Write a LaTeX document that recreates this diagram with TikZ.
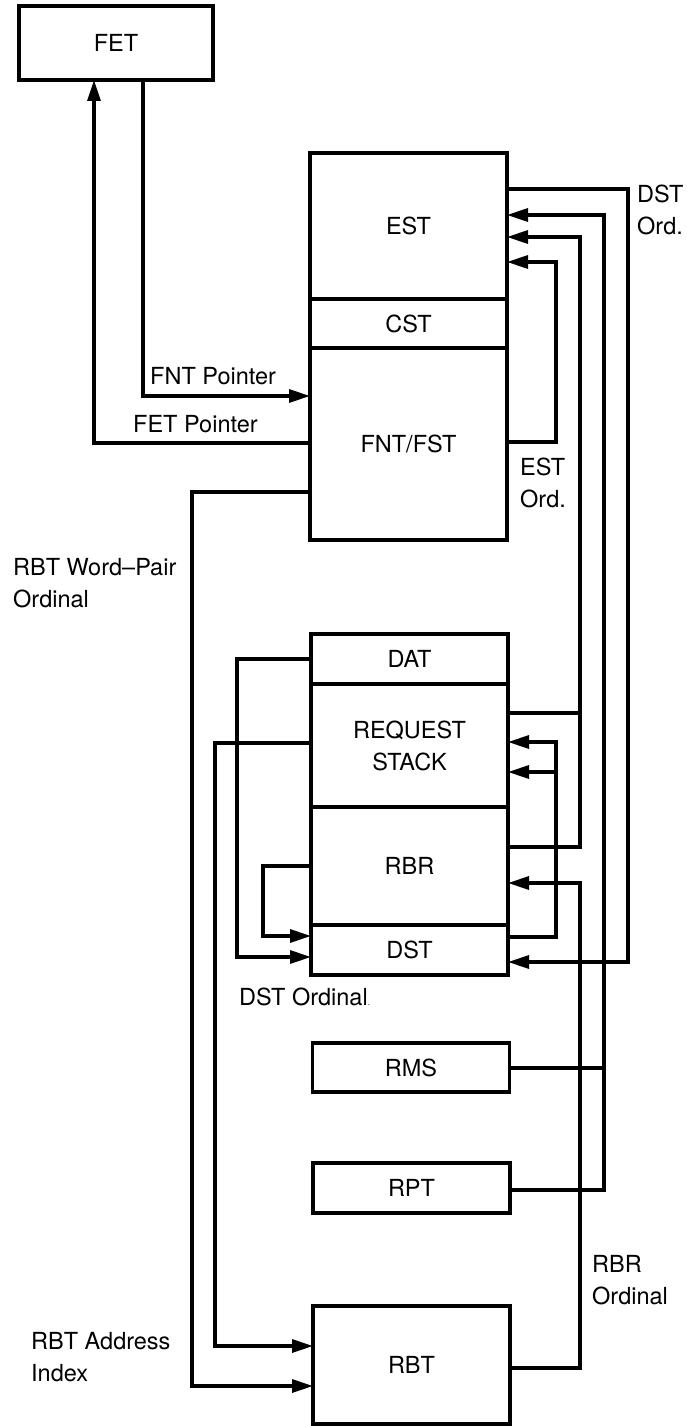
\documentclass[tikz,border=0pt]{standalone}
\usepackage{fontspec}
\setmainfont{TeX Gyre Heros}
\usetikzlibrary{arrows.meta}
\begin{document}
\begin{tikzpicture}[x=1pt,y=-1pt,
  font=\fontsize{23.5}{32}\selectfont,
  box/.style={draw, line width=3.2pt, inner sep=0pt, outer sep=0pt, anchor=center},
  conn/.style={line width=3.2pt, -{Triangle[length=21pt,width=13pt]}},
  plain/.style={line width=3.2pt},
  lbl/.style={inner sep=0pt, align=left, anchor=west}]
\useasboundingbox (0,0) rectangle (687,1426);
% boxes
\node[box, minimum width=194pt, minimum height=74pt] (FET) at (116,43) {FET};
\node[box, minimum width=197pt, minimum height=146pt] (EST) at (408.5,226) {EST};
\node[box, minimum width=197pt, minimum height=49pt] (CST) at (408.5,323.5) {CST};
\node[box, minimum width=197pt, minimum height=192pt] (FNT) at (408.5,444) {FNT/FST};
\node[box, minimum width=197pt, minimum height=50pt] (DAT) at (409.5,659) {DAT};
\node[box, minimum width=197pt, minimum height=123pt, align=center] (REQ) at (409.5,745.5) {REQUEST\\STACK};
\node[box, minimum width=197pt, minimum height=118pt] (RBR) at (409.5,866) {RBR};
\node[box, minimum width=197pt, minimum height=50pt] (DST) at (409.5,950) {DST};
\node[box, minimum width=197pt, minimum height=49pt] (RMS) at (411,1067.5) {RMS};
\node[box, minimum width=197pt, minimum height=50pt] (RPT) at (411.5,1188) {RPT};
\node[box, minimum width=197pt, minimum height=118pt] (RBT) at (411.5,1365) {RBT};
% FET pointers
\draw[conn] (FET.south -| 143,0) |- (FNT.west |- 0,396);
\draw[conn] (FNT.west |- 0,443) -| (FET.south -| 94,0);
\node[lbl] (lfnt) at (150,376) {FNT Pointer};
\node[lbl] (lfet) at (133,424) {FET Pointer};
% EST Ord loop
\draw[conn] (FNT.east |- 0,442) -- (556,442) |- (EST.east |- 0,262);
\node[lbl, anchor=north west] (lest) at (520,458) {EST\\Ord.};
% DST Ord
\draw[conn] (EST.east |- 0,189) -- (628,189) |- (DST.east |- 0,962);
\node[lbl, anchor=north west] (ldst) at (637,185) {DST\\Ord.};
% RMS / RPT to EST
\draw[conn] (RPT.east |- 0,1190) -- (604,1190) |- (EST.east |- 0,215);
\draw[plain] (RMS.east |- 0,1068) -- (604,1068);
% REQUEST STACK / RBR to EST
\draw[conn] (RBR.east |- 0,847) -- (580,847) |- (EST.east |- 0,237);
\draw[plain] (REQ.east |- 0,713) -- (580,713);
% DST to REQUEST STACK
\draw[conn] (DST.east |- 0,937) -- (556,937) |- (REQ.east |- 0,742);
\draw[conn] (556,772) -- (REQ.east |- 0,772);
% RBT to RBR
\draw[conn] (RBT.east |- 0,1368) -- (580,1368) |- (RBR.east |- 0,883);
\node[lbl, anchor=north west] (lrbr) at (592,1255) {RBR\\Ordinal};
% left side
\draw[conn] (FNT.west |- 0,492) -- (192,492) |- (RBT.west |- 0,1386);
\node[lbl, anchor=north west] (lwp) at (13,558) {RBT Word--Pair\\Ordinal};
\draw[conn] (REQ.west |- 0,743) -- (215,743) |- (RBT.west |- 0,1346);
\node[lbl, anchor=north west] (lai) at (31,1332) {RBT Address\\Index};
\draw[conn] (DAT.west |- 0,659) -- (237,659) |- (DST.west |- 0,957);
\draw[conn] (RBR.west |- 0,866) -- (263,866) |- (DST.west |- 0,936);
\node[lbl] (ldo) at (239,997) {DST Ordinal{\fontsize{8}{8}\selectfont.}};
\end{tikzpicture}
\end{document}
